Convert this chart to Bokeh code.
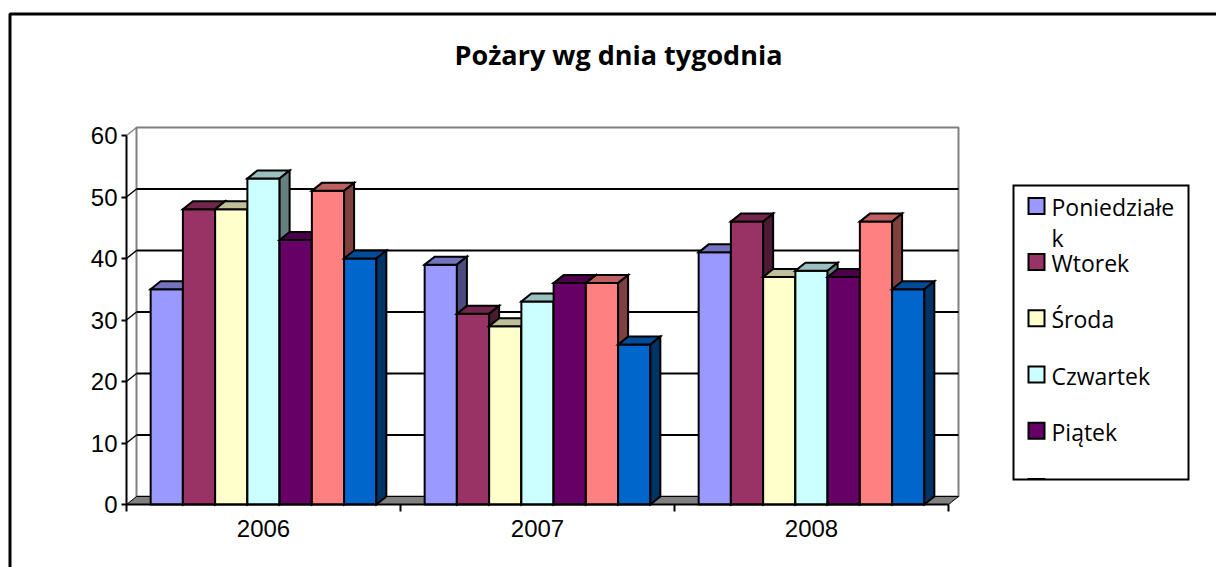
from bokeh.plotting import figure
from bokeh.models import Range1d, LinearAxis, FixedTicker, Label
from bokeh.core.properties import value
from bokeh.embed import file_html
from bokeh.resources import INLINE

# ---------------- data ----------------
title = "Pożary wg dnia tygodnia"
years = ["2006", "2007", "2008"]
days = ["Poniedziałek", "Wtorek", "Środa", "Czwartek", "Piątek", "Sobota", "Niedziela"]
colors = ["#9999FF", "#993366", "#FFFFCC", "#CCFFFF", "#660066", "#FF8080", "#0066CC"]
poniedzialek = [35, 39, 41]
wtorek = [48, 31, 46]
sroda = [48, 29, 37]
czwartek = [53, 33, 38]
piatek = [43, 36, 37]
sobota = [51, 36, 46]
niedziela = [40, 26, 35]
series = [poniedzialek, wtorek, sroda, czwartek, piatek, sobota, niedziela]
y_ticks = [0, 10, 20, 30, 40, 50, 60]

# ---------------- layout (page pixels) ----------------
W, H = 1216, 567
PAGE = 0
AX_LEFT_PX = 126      # page x of the front value axis
AX_ZERO_PX = 504      # page y of value 0 on the front plane
CAT_PX = 274          # pixels per category
VAL_PX = 6.15         # pixels per value unit
DEPTH_X_PX, DEPTH_Y_PX = 10, 8
BAR_PX = 32.24


def xd(px):
    return (px - AX_LEFT_PX) / CAT_PX - 0.5


def yd(py):
    return (AX_ZERO_PX - py) / VAL_PX


def shade(c, f):
    r, g, b = int(c[1:3], 16), int(c[3:5], 16), int(c[5:7], 16)
    return "#%02X%02X%02X" % (round(r * f), round(g * f), round(b * f))


DX = DEPTH_X_PX / CAT_PX
DY = DEPTH_Y_PX / VAL_PX
BW = BAR_PX / CAT_PX
ymax = y_ticks[-1]
xl, xr = -0.5, len(years) - 0.5

p = figure(width=W, height=H, output_backend="svg", toolbar_location=None,
           x_axis_type=None, y_axis_type=None,
           x_range=Range1d(xd(PAGE), xd(PAGE + W)),
           y_range=Range1d(yd(PAGE + H), yd(PAGE)),
           min_border=0, outline_line_color=None,
           background_fill_color="white", border_fill_color="white")

# outer chart border (left and top visible)
p.line(x=[xd(9.5), xd(9.5), xd(1300)], y=[yd(700), yd(13.5), yd(13.5)],
       line_color="black", line_width=3)

# back wall
p.patch([xl + DX, xl + DX, xr + DX, xr + DX], [DY, ymax + DY, ymax + DY, DY],
        fill_color="white", line_color="#808080", line_width=2)
grid_vals = y_ticks[1:-1]
p.segment(x0=[xl + DX] * len(grid_vals), x1=[xr + DX] * len(grid_vals),
          y0=[v + DY for v in grid_vals], y1=[v + DY for v in grid_vals],
          line_color="black", line_width=2)
p.segment(x0=[xl] * len(grid_vals), x1=[xl + DX] * len(grid_vals),
          y0=grid_vals, y1=[v + DY for v in grid_vals],
          line_color="black", line_width=1.5)
p.segment(x0=[xl], x1=[xl + DX], y0=[ymax], y1=[ymax + DY],
          line_color="#808080", line_width=1.5)

# floor
p.patch([xl, xr, xr + DX, xl + DX], [0, 0, DY, DY],
        fill_color="#808080", line_color="black", line_width=1)

# bars
n = len(days)
for j, (vals, c) in enumerate(zip(series, colors)):
    left = [i - n * BW / 2 + j * BW for i in range(len(years))]
    right = [l + BW for l in left]
    p.quad(left=left, right=right, bottom=0, top=vals, fill_color=c,
           line_color="black", line_width=2, line_join="miter")
    p.patches([[l, l + DX, r + DX, r] for l, r in zip(left, right)],
              [[v, v + DY, v + DY, v] for v in vals],
              fill_color=shade(c, 0.75), line_color="black", line_width=2, line_join="miter")
    p.patches([[r, r, r + DX, r + DX] for r in right],
              [[0, v, v + DY, DY] for v in vals],
              fill_color=shade(c, 0.5), line_color="black", line_width=2, line_join="miter")

# axes
yax = LinearAxis(fixed_location=xl, ticker=FixedTicker(ticks=y_ticks), bounds=(0, ymax))
yax.axis_line_width = 2
yax.major_tick_out = 5
yax.major_tick_in = 0
yax.major_tick_line_width = 2
yax.minor_tick_out = 0
yax.minor_tick_in = 0
yax.major_label_standoff = 4
yax.major_label_text_font = "Liberation Sans"
yax.major_label_text_font_size = "24px"
yax.major_label_text_color = "black"
p.add_layout(yax, "left")

xax = LinearAxis(fixed_location=0, ticker=FixedTicker(ticks=[i - 0.5 for i in range(len(years) + 1)]),
                 bounds=(xl, xr))
xax.axis_line_width = 2
xax.major_tick_out = 7
xax.major_tick_in = 0
xax.major_tick_line_width = 2
xax.minor_tick_out = 0
xax.minor_tick_in = 0
xax.major_label_text_color = None
p.add_layout(xax, "below")

xlab = LinearAxis(fixed_location=0, ticker=FixedTicker(ticks=list(range(len(years)))),
                  major_label_overrides={i: y for i, y in enumerate(years)})
xlab.axis_line_color = None
xlab.major_tick_out = 0
xlab.major_tick_in = 0
xlab.minor_tick_out = 0
xlab.minor_tick_in = 0
xlab.major_label_standoff = 15
xlab.major_label_text_font = "Liberation Sans"
xlab.major_label_text_font_size = "24px"
xlab.major_label_text_color = "black"
p.add_layout(xlab, "below")

# title
p.add_layout(Label(x=xd(618), y=yd(54), text=title, text_align="center",
                   text_baseline="alphabetic", text_font="Open Sans",
                   text_font_style="bold", text_font_size="27px", text_color="black"))

# legend (drawn, clipped at its box like the original)
LEG_L, LEG_T, LEG_R, LEG_B = 1013, 185, 1188, 479
LEG_FIRST, LEG_STEP, SQ = 205.4, 56.2, 16
SQ_L, TXT_L, LINE_H, WRAP, TXT_SHIFT = 1028, 1051, 31, 11, 7
p.quad(left=xd(LEG_L), right=xd(LEG_R), top=yd(LEG_T), bottom=yd(LEG_B),
       fill_color="white", line_color=None)
for k, (name, c) in enumerate(zip(days, colors)):
    cy = LEG_FIRST + k * LEG_STEP
    if cy - SQ / 2 > LEG_B:
        break
    p.quad(left=xd(SQ_L), right=xd(SQ_L + SQ), top=yd(cy - SQ / 2), bottom=yd(cy + SQ / 2),
           fill_color=c, line_color="black", line_width=2, line_join="miter")
    parts = [name[i:i + WRAP] for i in range(0, len(name), WRAP)]
    p.text(x=[xd(TXT_L)] * len(parts),
           y=[yd(cy + SQ / 2 - TXT_SHIFT + m * LINE_H) for m in range(len(parts))],
           text=parts, text_font=value("Open Sans"), text_font_size="23px",
           text_baseline="alphabetic", text_align="left", text_color="black")
p.quad(left=xd(LEG_L - 4), right=xd(LEG_R + 4), top=yd(LEG_B), bottom=yd(PAGE + H + 20),
       fill_color="white", line_color=None)
p.quad(left=xd(LEG_L), right=xd(LEG_R), top=yd(LEG_T), bottom=yd(LEG_B),
       fill_color=None, line_color="black", line_width=2, line_join="miter")

open("out.html", "w").write(file_html(p, INLINE))
